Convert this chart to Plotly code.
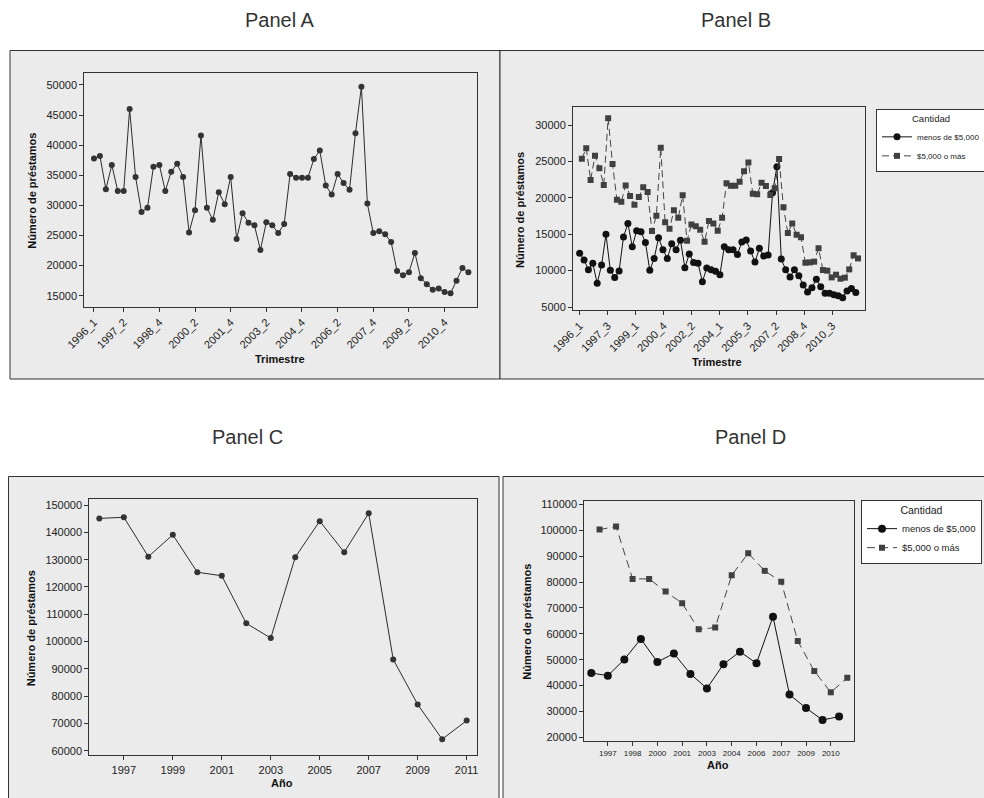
import plotly.graph_objects as go

W, H = 984, 798

# ---------------- data ----------------
quarters = [f"{y}_{q}" for y in range(1996, 2012) for q in range(1, 5)]
years = list(range(1996, 2012))

panel_a_total = [37800, 38200, 32700, 36700, 32400, 32400, 46000, 34700, 28900, 29600,
                 36400, 36700, 32400, 35600, 36900, 34700, 25500, 29200, 41600, 29600,
                 27600, 32200, 30200, 34700, 24400, 28700, 27100, 26700, 22600, 27200,
                 26700, 25400, 26900, 35200, 34600, 34600, 34600, 37700, 39100, 33300,
                 31800, 35200, 33700, 32600, 42000, 49700, 30300, 25400, 25700, 25200,
                 23900, 19100, 18400, 18900, 22100, 17900, 16900, 16000, 16200, 15600,
                 15400, 17500, 19600, 18900]

panel_b_under = [12400, 11450, 10130, 11000, 8250, 10770, 14980, 10040, 9070, 9940,
                 14610, 16490, 13290, 15480, 15350, 13880, 10040, 11680, 14520, 12870,
                 11680, 13700, 12870, 14160, 10400, 12280, 11130, 11000, 8480, 10360,
                 10130, 9900, 9440, 13290, 12870, 12870, 12230, 13930, 14200, 12690,
                 11180, 13060, 12000, 12140, 20700, 24280, 11590, 10130, 9120, 10130,
                 9300, 8020, 7060, 7650, 8800, 7790, 6880, 6880, 6690, 6560,
                 6280, 7200, 7560, 7010]

panel_b_over = [25380, 26800, 22440, 25790, 24050, 21760, 30920, 24640, 19740, 19470,
                21710, 20250, 19060, 20110, 21440, 20800, 15440, 17550, 26890, 16630,
                15760, 18280, 17270, 20340, 14110, 16350, 16080, 15620, 13970, 16810,
                16490, 15480, 17270, 21990, 21670, 21670, 22220, 23640, 24870, 20570,
                20480, 22080, 21620, 20380, 21300, 25330, 18690, 15160, 16490, 14930,
                14570, 11090, 11130, 11230, 13060, 10080, 9990, 9070, 9440, 8890,
                9030, 10170, 12100, 11680]

panel_c_total = [145100, 145500, 131100, 139100, 125400, 124100, 106700, 101300,
                 130900, 144100, 132700, 147000, 93500, 77000, 64300, 71100]

panel_d_under = [44850, 43800, 50100, 58000, 49100, 52400, 44500, 38900,
                 48200, 53100, 48600, 66600, 36500, 31300, 26700, 28000]
panel_d_over = [100300, 101400, 81200, 81200, 76300, 71800, 61700, 62400,
                82600, 91100, 84300, 80100, 57200, 45600, 37400, 43000]

a_tick_labels = ["1996_1", "1997_2", "1998_4", "2000_2", "2001_4", "2003_2",
                 "2004_4", "2006_2", "2007_4", "2009_2", "2010_4"]
b_tick_labels = ["1996_1", "1997_3", "1999_1", "2000_4", "2002_2", "2004_1",
                 "2005_3", "2007_2", "2008_4", "2010_3"]
c_tick_labels = ["1997", "1999", "2001", "2003", "2005", "2007", "2009", "2011"]
d_tick_labels = ["1997", "1998", "2000", "2001", "2003", "2004", "2006", "2007",
                 "2009", "2010"]
legend_names = ["menos de $5,000", "$5,000 o más"]
panel_titles = ["Panel A", "Panel B", "Panel C", "Panel D"]

# ---------------- helpers ----------------
def px(x):
    return x / W

def py(y):
    return 1 - y / H

FONT = "Liberation Sans"
DARK = "#333333"

fig = go.Figure()

# Panel A
fig.add_trace(go.Scatter(
    x=list(range(len(panel_a_total))), y=panel_a_total, mode="lines+markers",
    line=dict(color="#2b2b2b", width=1), marker=dict(color="#333333", size=6),
    xaxis="x", yaxis="y", showlegend=False))

# Panel B (interleaved positions)
fig.add_trace(go.Scatter(
    x=[2 * i for i in range(len(panel_b_under))], y=panel_b_under, mode="lines+markers",
    name=legend_names[0], line=dict(color="#111111", width=1),
    marker=dict(color="#111111", size=7, symbol="circle"),
    xaxis="x2", yaxis="y2", legend="legend"))
fig.add_trace(go.Scatter(
    x=[2 * i + 1 for i in range(len(panel_b_over))], y=panel_b_over, mode="lines+markers",
    name=legend_names[1], line=dict(color="#444444", width=1, dash="7px,4px"),
    marker=dict(color="#404040", size=6, symbol="square"),
    xaxis="x2", yaxis="y2", legend="legend"))

# Panel C
fig.add_trace(go.Scatter(
    x=years, y=panel_c_total, mode="lines+markers",
    line=dict(color="#2b2b2b", width=1), marker=dict(color="#333333", size=6),
    xaxis="x3", yaxis="y3", showlegend=False))

# Panel D (interleaved positions)
fig.add_trace(go.Scatter(
    x=[2 * i for i in range(len(panel_d_under))], y=panel_d_under, mode="lines+markers",
    name=legend_names[0], line=dict(color="#111111", width=1),
    marker=dict(color="#111111", size=8, symbol="circle"),
    xaxis="x4", yaxis="y4", legend="legend2"))
fig.add_trace(go.Scatter(
    x=[2 * i + 1 for i in range(len(panel_d_over))], y=panel_d_over, mode="lines+markers",
    name=legend_names[1], line=dict(color="#444444", width=1, dash="8px,5px"),
    marker=dict(color="#404040", size=6, symbol="square"),
    xaxis="x4", yaxis="y4", legend="legend2"))

axis_common = dict(showline=True, linecolor=DARK, linewidth=1, mirror=True,
                   ticks="outside", ticklen=4, tickcolor=DARK, showgrid=False,
                   zeroline=False, tickformat="d",
                   tickfont=dict(family=FONT, size=11, color="#222222"))

a_tickvals = [quarters.index(l) for l in a_tick_labels]
b_tickvals = [k * (2 * len(panel_b_under)) / len(b_tick_labels) for k in range(len(b_tick_labels))]
c_tickvals = [int(l) for l in c_tick_labels]
d_tickvals = list(range(2, 2 * len(panel_d_under), 3))

fig.update_layout(
    width=W, height=H, margin=dict(l=0, r=0, t=0, b=0, autoexpand=False),
    paper_bgcolor="white", plot_bgcolor="white",
    font=dict(family=FONT, color="#222222"),
    xaxis=dict(axis_common, domain=[px(84.3), px(477.3)], anchor="y",
               range=[-1.63, 64.5], tickvals=a_tickvals, ticktext=a_tick_labels,
               tickangle=-45),
    yaxis=dict(axis_common, domain=[py(306.7), py(73.3)], anchor="x",
               range=[13170, 51940], tick0=15000, dtick=5000),
    xaxis2=dict(axis_common, domain=[px(573), px(865)], anchor="y2",
                range=[-3.04, 130.2], tickvals=b_tickvals, ticktext=b_tick_labels,
                tickangle=-45),
    yaxis2=dict(axis_common, domain=[py(310), py(106.7)], anchor="x2",
                range=[4590, 32520], tick0=5000, dtick=5000),
    xaxis3=dict(axis_common, domain=[px(89.3), px(476.7)], anchor="y3",
                range=[1995.59, 2011.41], tickvals=c_tickvals, ticktext=c_tick_labels),
    yaxis3=dict(axis_common, domain=[py(755.3), py(499)], anchor="x3",
                range=[58400, 152200], tick0=60000, dtick=10000),
    xaxis4=dict(axis_common, domain=[px(584.3), px(854)], anchor="y4",
                range=[-0.85, 31.81], tickvals=d_tickvals, ticktext=d_tick_labels,
                tickfont=dict(family=FONT, size=8, color="#222222")),
    yaxis4=dict(axis_common, domain=[py(741), py(501)], anchor="x4",
                range=[18580, 111290], tick0=20000, dtick=10000),
    legend=dict(x=px(876), y=py(109), xanchor="left", yanchor="top",
                bgcolor="white", bordercolor=DARK, borderwidth=1,
                font=dict(family=FONT, size=8, color="#222222"),
                title=dict(text="Cantidad", side="top center",
                           font=dict(family=FONT, size=9.5, color="#222222")),
                tracegroupgap=0, itemwidth=30),
    legend2=dict(x=px(861), y=py(499.5), xanchor="left", yanchor="top",
                 bgcolor="white", bordercolor=DARK, borderwidth=1,
                 font=dict(family=FONT, size=9.5, color="#222222"),
                 title=dict(text="Cantidad", side="top center",
                            font=dict(family=FONT, size=10.5, color="#222222")),
                 tracegroupgap=0, itemwidth=30),
)

# Panel background boxes
boxes = [(10, 50.5, 500, 379), (500, 50.5, 990, 379),
         (8.5, 476.5, 499, 805), (503, 476.5, 990, 805)]
for x0, y0, x1, y1 in boxes:
    fig.add_shape(type="rect", xref="paper", yref="paper",
                  x0=px(x0), x1=px(x1), y0=py(y1), y1=py(y0),
                  fillcolor="#ebebeb", line=dict(color=DARK, width=1), layer="below")

# Panel titles
title_pos = [(280, 20), (736, 20), (248, 437), (750, 437)]
for t, (x, y) in zip(panel_titles, title_pos):
    fig.add_annotation(text=t, x=px(x), y=py(y), xref="paper", yref="paper",
                       showarrow=False, xanchor="center", yanchor="middle",
                       font=dict(family=FONT, size=20, color=DARK))

# Axis titles
ytitle = "Número de préstamos"
for x, y in [(31.7, 191), (520, 210), (31.3, 628), (526.7, 622)]:
    fig.add_annotation(text=f"<b>{ytitle}</b>", x=px(x), y=py(y), xref="paper", yref="paper",
                       showarrow=False, textangle=-90, xanchor="center", yanchor="middle",
                       font=dict(family=FONT, size=11, color="#111111"))
for t, (x, y) in [("Trimestre", (280, 359)), ("Trimestre", (717, 362)),
                  ("Año", (282, 783)), ("Año", (718, 765))]:
    fig.add_annotation(text=f"<b>{t}</b>", x=px(x), y=py(y), xref="paper", yref="paper",
                       showarrow=False, xanchor="center", yanchor="middle",
                       font=dict(family=FONT, size=11, color="#111111"))

fig.write_html("out.html")
